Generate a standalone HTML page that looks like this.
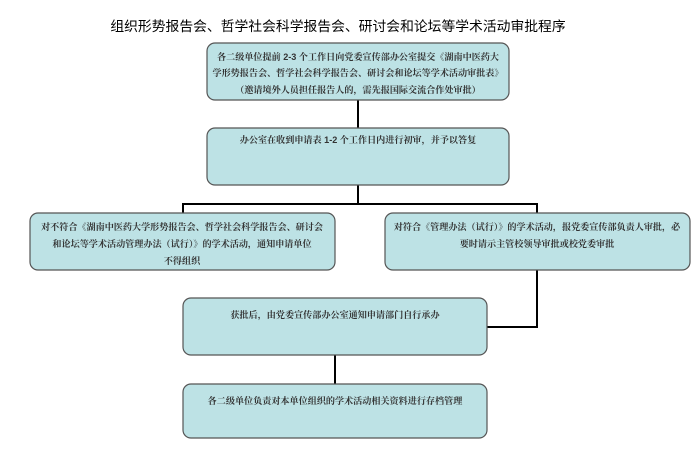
<!DOCTYPE html>
<html><head><meta charset="utf-8"><style>
body{margin:0;background:#fff;}
svg text{font-family:"Liberation Sans","Noto Serif CJK SC","Noto Sans CJK SC",serif;fill:#333;}
</style></head><body>
<svg width="700" height="471" viewBox="0 0 700 471" xmlns="http://www.w3.org/2000/svg">
<text x="338" y="31" text-anchor="middle" style="font-family:'Liberation Sans','Noto Sans CJK SC',sans-serif;font-size:13.8px;fill:#000">组织形势报告会、哲学社会科学报告会、研讨会和论坛等学术活动审批程序</text>
<g stroke="#000" stroke-width="2" fill="none">
<line x1="358" y1="100" x2="358" y2="128"/>
<line x1="358" y1="185" x2="358" y2="204"/>
<polyline points="183,213 183,204 537,204 537,213"/>
<polyline points="537,270 537,327 487,327"/>
<line x1="335" y1="355" x2="335" y2="384"/>
</g>
<g fill="#bde2e5" stroke="#555" stroke-width="1.2">
<rect x="207" y="43" width="302" height="57" rx="8"/>
<rect x="207" y="128" width="302" height="57" rx="8"/>
<rect x="30" y="213" width="305" height="57" rx="8"/>
<rect x="385" y="213" width="305" height="57" rx="8"/>
<rect x="183" y="298" width="304" height="57" rx="8"/>
<rect x="183" y="384" width="304" height="54" rx="8"/>
</g>
<g font-size="9.1" text-anchor="middle" font-weight="bold">
<text x="358" y="60">各二级单位提前 2-3 个工作日向党委宣传部办公室提交《湖南中医药大</text>
<text x="358" y="76">学形势报告会、哲学社会科学报告会、研讨会和论坛等学术活动审批表》</text>
<text x="358" y="93">（邀请境外人员担任报告人的，需先报国际交流合作处审批）</text>
<text x="358" y="143">办公室在收到申请表 1-2 个工作日内进行初审，并予以答复</text>
<text x="182" y="230">对不符合《湖南中医药大学形势报告会、哲学社会科学报告会、研讨会</text>
<text x="182" y="247">和论坛等学术活动管理办法（试行）》的学术活动，通知申请单位</text>
<text x="182" y="264">不得组织</text>
<text x="537" y="230">对符合《管理办法（试行）》的学术活动，报党委宣传部负责人审批，必</text>
<text x="537" y="247">要时请示主管校领导审批或校党委审批</text>
<text x="335" y="318">获批后，由党委宣传部办公室通知申请部门自行承办</text>
<text x="335" y="404">各二级单位负责对本单位组织的学术活动相关资料进行存档管理</text>
</g>
</svg>
</body></html>
